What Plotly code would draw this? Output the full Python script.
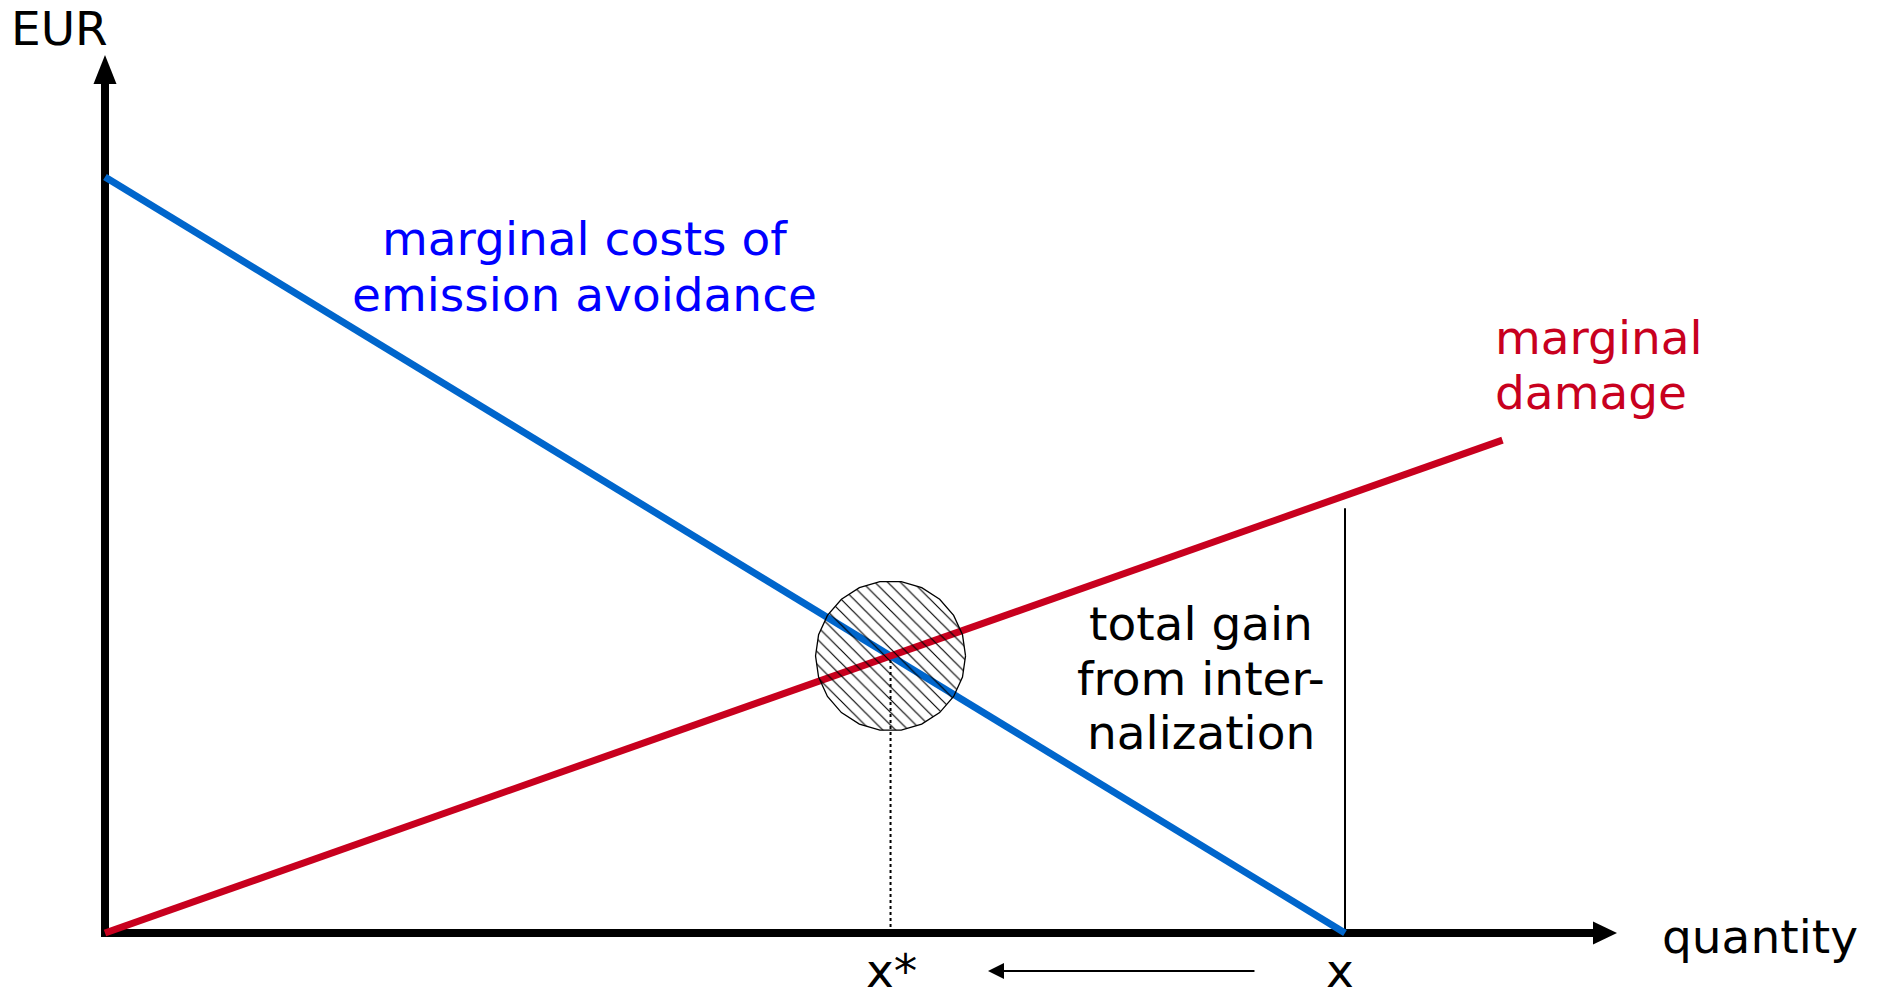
import numpy as np
import plotly.graph_objects as go

# ---------------- data (quantity units / EUR units) ----------------
mac_q = [0.0, 100.0]          # marginal costs of emission avoidance
mac_eur = [100.0, 0.0]
md_q = [0.0, 112.7]           # marginal damage
md_eur = [0.0, 65.2]
x_initial = 100.0             # unregulated quantity x
gain_line_top = 56.2          # top of thin vertical line at x
axis_q_end = 120.0
axis_eur_end = 112.3
arrow_q_from = 92.7
arrow_q_to = 72.5
arrow_eur = -5.03

# ---------------- derived values ----------------
mac_slope = (mac_eur[1] - mac_eur[0]) / (mac_q[1] - mac_q[0])
md_slope = (md_eur[1] - md_eur[0]) / (md_q[1] - md_q[0])
q_star = (mac_eur[0] - md_eur[0]) / (md_slope - mac_slope)
eur_star = md_eur[0] + md_slope * q_star

# axis scales (pixels per unit)
PX_Q = 12.4
PX_E = 7.56
W, H = 1877, 991
X0_PX, Y0_PX = 105, 933
xr = [-X0_PX / PX_Q, (W - X0_PX) / PX_Q]
yr = [-(H - Y0_PX) / PX_E, Y0_PX / PX_E]

BLACK = "#000000"
BLUE_LINE = "#0066CC"
RED = "#C8001E"
BLUE_TEXT = "#0000FF"
FONT = "DejaVu Sans"
FS = 47

fig = go.Figure()

def seg(xs, ys, color, width, dash="solid"):
    fig.add_trace(go.Scatter(x=xs, y=ys, mode="lines",
                             line=dict(color=color, width=width, dash=dash),
                             hoverinfo="skip", showlegend=False))

def tri(xs, ys, color):
    fig.add_trace(go.Scatter(x=xs + [xs[0]], y=ys + [ys[0]], mode="lines",
                             fill="toself", fillcolor=color,
                             line=dict(color=color, width=0),
                             hoverinfo="skip", showlegend=False))

# axes
AX_W = 8
half_w_q = AX_W / 2 / PX_Q
half_w_e = AX_W / 2 / PX_E
seg([0, 0], [-half_w_e, axis_eur_end], BLACK, AX_W)
seg([-half_w_q, axis_q_end], [0, 0], BLACK, AX_W)
head_x = 11.5 / PX_Q
tri([-head_x, head_x, 0], [axis_eur_end, axis_eur_end, axis_eur_end + 29 / PX_E], BLACK)
tri([axis_q_end, axis_q_end, axis_q_end + 24 / PX_Q],
    [-11.5 / PX_E, 11.5 / PX_E, 0], BLACK)

# dotted line at optimum, thin line at x
seg([q_star, q_star], [0, eur_star], BLACK, 2, "dot")
seg([x_initial, x_initial], [0, gain_line_top], BLACK, 2)

# curves
seg(mac_q, mac_eur, BLUE_LINE, 7)
seg(md_q, md_eur, RED, 7)

# hatched circle around the optimum
theta = np.linspace(0, 2 * np.pi, 23)
rq = 75 / PX_Q
re = 75 / PX_E
fig.add_trace(go.Scatter(
    x=q_star + rq * np.cos(theta), y=eur_star + re * np.sin(theta),
    mode="lines", fill="toself", fillcolor="rgba(0,0,0,0)",
    fillpattern=dict(shape="\\", size=9, solidity=0.13, fgcolor=BLACK,
                     bgcolor="rgba(0,0,0,0)", fillmode="replace"),
    line=dict(color=BLACK, width=1.3), hoverinfo="skip", showlegend=False))

# arrow below axis
seg([arrow_q_from, arrow_q_to], [arrow_eur, arrow_eur], BLACK, 2)
tri([arrow_q_to, arrow_q_to, arrow_q_to - 16 / PX_Q],
    [arrow_eur - 8 / PX_E, arrow_eur + 8 / PX_E, arrow_eur], BLACK)

# texts
def txt(s, x, y, color=BLACK, xanchor="center"):
    fig.add_annotation(text=s, x=x, y=y, xref="x", yref="y", showarrow=False,
                       xanchor=xanchor, yanchor="middle",
                       font=dict(family=FONT, size=FS, color=color))

txt("EUR", -3.67, 119.7)
txt("quantity", 125.4, -0.40, xanchor="left")
txt("x*", q_star + 0.1, -5.0)
txt("x", 99.6, -5.0)
txt("marginal costs of", 38.7, 91.9, BLUE_TEXT)
txt("emission avoidance", 38.7, 84.4, BLUE_TEXT)
txt("marginal", 111.9, 78.8, RED, xanchor="left")
txt("damage", 111.9, 71.5, RED, xanchor="left")
txt("total gain", 88.4, 41.0)
txt("from inter-", 88.4, 33.7)
txt("nalization", 88.4, 26.5)

fig.update_layout(
    width=W, height=H, margin=dict(l=0, r=0, t=0, b=0, pad=0),
    paper_bgcolor="white", plot_bgcolor="white",
    xaxis=dict(range=xr, visible=False, fixedrange=True),
    yaxis=dict(range=yr, visible=False, fixedrange=True),
    showlegend=False,
)

fig.write_html("out.html", config={"displayModeBar": False},
               post_script="document.body.style.margin='0';document.body.style.overflow='hidden';")
